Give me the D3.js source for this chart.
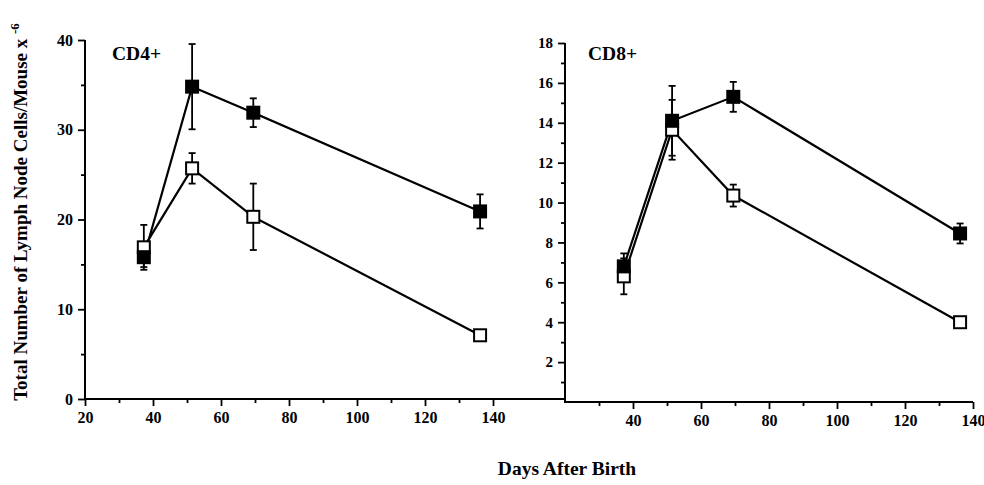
<!DOCTYPE html>
<html>
<head>
<meta charset="utf-8">
<script src="https://cdn.jsdelivr.net/npm/d3@7"></script>
<style>
  body { margin: 0; background: #fff; }
  text { font-family: "Liberation Serif", "Times New Roman", serif; fill: #000; }
</style>
</head>
<body>
<div id="chart-wrapper"></div>
<script>
let width = 984
let height = 485

// days after birth (shared by both panels)
let days = [37.3, 51.5, 69.5, 136.2]

// CD4+ panel
let cd4Filled = [15.8, 34.8, 31.9, 20.9]
let cd4FilledErr = [1.1, 4.75, 1.6, 1.9]
let cd4Open = [16.9, 25.7, 20.3, 7.1]
let cd4OpenErr = [2.5, 1.7, 3.7, 0.4]

// CD8+ panel
let cd8Filled = [6.8, 14.1, 15.3, 8.45]
let cd8FilledErr = [0.65, 1.75, 0.75, 0.5]
let cd8Open = [6.3, 13.65, 10.35, 4.0]
let cd8OpenErr = [0.9, 1.5, 0.55, 0.15]

let xTicks = [20, 40, 60, 80, 100, 120, 140]
let cd4YTicks = [0, 10, 20, 30, 40]
let cd8YTicks = [2, 4, 6, 8, 10, 12, 14, 16, 18]

let svg = d3
  .select("#chart-wrapper")
  .append("svg")
  .attr("width", width)
  .attr("height", height)

// Scales
let x1 = d3.scaleLinear().domain([20, 140]).range([85, 493])
let y1 = d3.scaleLinear().domain([0, 40]).range([399, 40])
let x2 = d3.scaleLinear().domain([20, 140]).range([565, 973])
let y2 = d3.scaleLinear().domain([0, 18]).range([402, 43])

function drawPanel(x, y, opts) {
  let g = svg.append("g")
  let y0 = y(0)

  // minor x ticks
  g.append("g")
    .attr("transform", `translate(0,${y0})`)
    .call(d3.axisBottom(x).tickValues(d3.range(30, 141, 20)).tickSize(4).tickFormat(""))
  // major x ticks
  g.append("g")
    .attr("class", "xAxis")
    .attr("transform", `translate(0,${y0})`)
    .call(d3.axisBottom(x).tickValues(opts.xLabels).tickSize(7).tickPadding(6).tickFormat(d3.format("d")))
  g.selectAll(".domain").remove()
  g.append("line")
    .attr("x1", x(20)).attr("x2", opts.xEnd)
    .attr("y1", y0).attr("y2", y0)
    .attr("stroke", "#000").attr("stroke-width", 2.2)

  // y axis
  g.append("g")
    .attr("transform", `translate(${x(20)},0)`)
    .call(d3.axisLeft(y).tickValues(opts.yMinor).tickSize(4).tickFormat(""))
  g.append("g")
    .attr("class", "yAxis")
    .attr("transform", `translate(${x(20)},0)`)
    .call(d3.axisLeft(y).tickValues(opts.yTicks).tickSize(7).tickPadding(5).tickFormat(d3.format("d")))
  g.selectAll(".domain").remove()
  g.append("line")
    .attr("x1", x(20)).attr("x2", x(20))
    .attr("y1", y(opts.yMax)).attr("y2", y0 + 1)
    .attr("stroke", "#000").attr("stroke-width", 2)

  g.selectAll(".tick line").attr("stroke", "#000").attr("stroke-width", 1.8)
  g.selectAll(".xAxis .tick text")
    .attr("font-family", "Liberation Serif")
    .attr("font-weight", "bold")
    .attr("font-size", 16)
    .attr("fill", "#000")
  g.selectAll(".yAxis .tick text")
    .attr("font-family", "Liberation Serif")
    .attr("font-weight", "bold")
    .attr("font-size", opts.yFont)
    .attr("fill", "#000")

  // panel title
  g.append("text")
    .attr("x", opts.titleX)
    .attr("y", 60)
    .attr("font-size", 19.5)
    .attr("font-weight", "bold")
    .text(opts.title)

  let line = d3.line().x((d, i) => x(days[i])).y(d => y(d))

  let series = [
    { vals: opts.open, err: opts.openErr, fill: "#fff" },
    { vals: opts.filled, err: opts.filledErr, fill: "#000" }
  ]

  series.forEach(s => {
    g.append("path")
      .attr("d", line(s.vals))
      .attr("fill", "none")
      .attr("stroke", "#000")
      .attr("stroke-width", 2.2)
  })

  series.forEach(s => {
    let eb = g.append("g")
    s.vals.forEach((v, i) => {
      let cx = x(days[i])
      let top = y(v + s.err[i])
      let bot = y(v - s.err[i])
      eb.append("line").attr("x1", cx).attr("x2", cx).attr("y1", top).attr("y2", bot)
        .attr("stroke", "#000").attr("stroke-width", 1.8)
      ;[top, bot].forEach(yy => {
        eb.append("line").attr("x1", cx - 3.5).attr("x2", cx + 3.5).attr("y1", yy).attr("y2", yy)
          .attr("stroke", "#000").attr("stroke-width", 1.8)
      })
    })
  })

  series.forEach(s => {
    g.selectAll(null)
      .data(s.vals)
      .enter()
      .append("rect")
      .attr("x", (d, i) => x(days[i]) - 6)
      .attr("y", d => y(d) - 6)
      .attr("width", 12)
      .attr("height", 12)
      .attr("fill", s.fill)
      .attr("stroke", "#000")
      .attr("stroke-width", 2)
  })
}

drawPanel(x1, y1, {
  xLabels: xTicks, xEnd: x2(20),
  yTicks: cd4YTicks, yMinor: [5, 15, 25, 35], yMax: 40, yFont: 16,
  title: "CD4+", titleX: 112,
  filled: cd4Filled, filledErr: cd4FilledErr,
  open: cd4Open, openErr: cd4OpenErr
})

drawPanel(x2, y2, {
  xLabels: xTicks.slice(1), xEnd: x2(140),
  yTicks: cd8YTicks, yMinor: [1, 3, 5, 7, 9, 11, 13, 15, 17], yMax: 18, yFont: 15,
  title: "CD8+", titleX: 588,
  filled: cd8Filled, filledErr: cd8FilledErr,
  open: cd8Open, openErr: cd8OpenErr
})

// Axis titles
svg.append("text")
  .attr("x", 567)
  .attr("y", 475)
  .attr("text-anchor", "middle")
  .attr("font-weight", "bold")
  .attr("font-size", 19.5)
  .text("Days After Birth")

let yTitle = svg.append("text")
  .attr("transform", "translate(27,212) rotate(-90)")
  .attr("text-anchor", "middle")
  .attr("font-weight", "bold")
  .attr("font-size", 19)
yTitle.append("tspan").text("Total Number of Lymph Node Cells/Mouse x ")
yTitle.append("tspan").attr("dy", -8).attr("font-size", 13).text("-6")
</script>
</body>
</html>
